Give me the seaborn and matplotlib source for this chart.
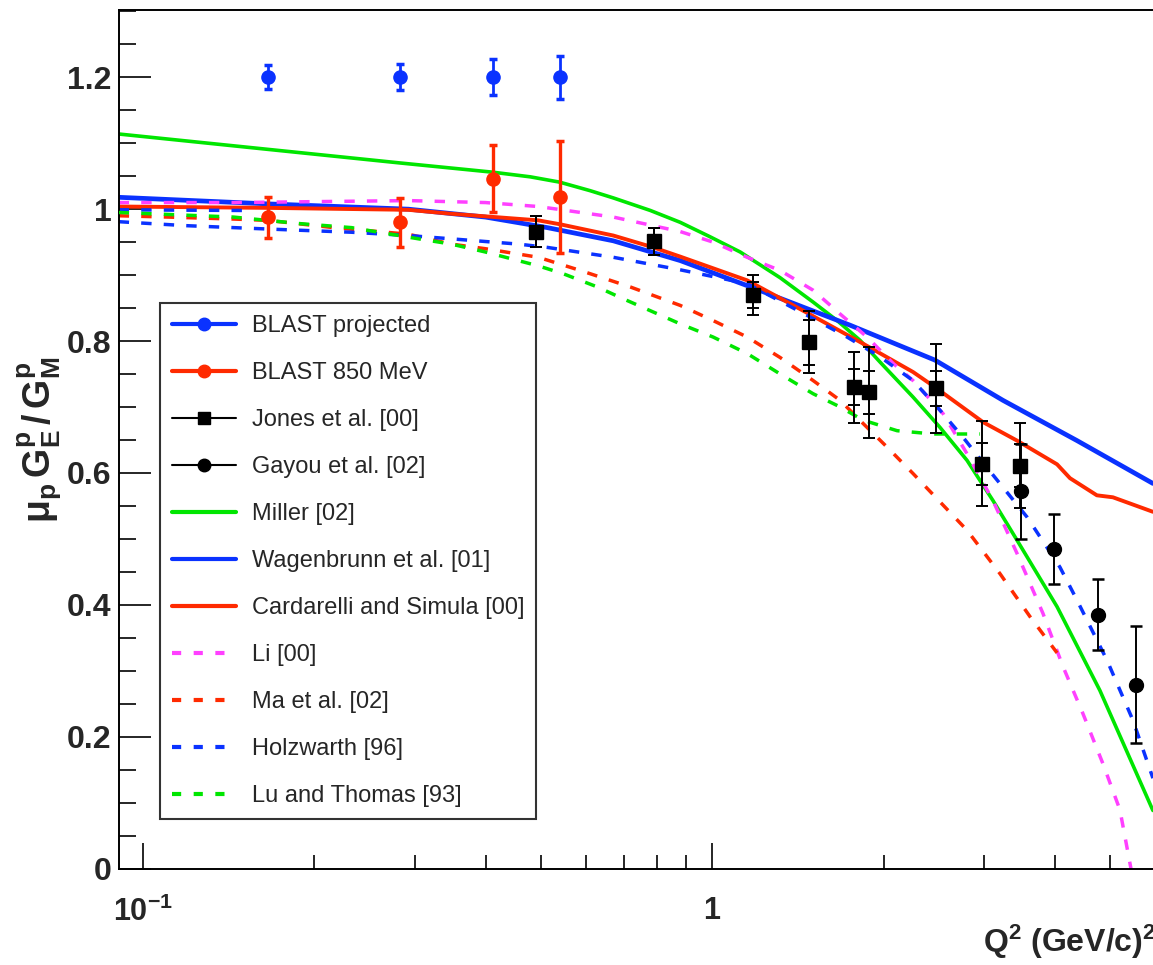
import matplotlib
matplotlib.use("Agg")
import matplotlib.pyplot as plt
import seaborn as sns
from matplotlib.lines import Line2D
from matplotlib.ticker import LogLocator, NullFormatter, MultipleLocator

# ---- data ----
blast_q2 = [0.1656, 0.2824, 0.412, 0.539]
blast_proj = [1.2, 1.2, 1.2, 1.2]
blast_proj_err = [0.018, 0.020, 0.027, 0.033]
blast_850 = [0.988, 0.980, 1.046, 1.018]
blast_850_err = [0.031, 0.037, 0.051, 0.085]

jones_q2 = [0.49, 0.79, 1.18, 1.48, 1.77, 1.88, 2.47, 2.97, 3.47]
jones_val = [0.966, 0.951, 0.870, 0.798, 0.730, 0.722, 0.728, 0.614, 0.611]
jones_stat = [0.024, 0.021, 0.020, 0.034, 0.027, 0.032, 0.027, 0.032, 0.033]
jones_tot = [0.024, 0.021, 0.030, 0.047, 0.054, 0.069, 0.068, 0.064, 0.064]

gayou_q2 = [3.49, 3.985, 4.75, 5.54]
gayou_val = [0.572, 0.484, 0.385, 0.279]
gayou_err = [0.072, 0.053, 0.054, 0.089]

miller_q2 = [0.0906, 0.2832, 0.412, 0.4789, 0.539, 0.610, 0.670, 0.778, 0.878, 0.991,
             1.119, 1.315, 1.503, 1.656, 1.817, 1.970, 2.251, 2.510, 2.800, 3.110,
             3.427, 4.030, 4.792, 5.938]
miller_val = [1.114, 1.070, 1.056, 1.049, 1.041, 1.028, 1.017, 0.998, 0.980, 0.958,
              0.935, 0.896, 0.859, 0.831, 0.801, 0.768, 0.715, 0.669, 0.619, 0.558,
              0.498, 0.397, 0.270, 0.088]

wagen_q2 = [0.0906, 0.1655, 0.2924, 0.3993, 0.5129, 0.6697, 0.878, 1.184, 1.745,
            2.460, 3.239, 4.368, 5.938]
wagen_val = [1.018, 1.008, 1.000, 0.988, 0.972, 0.952, 0.922, 0.880, 0.824,
             0.771, 0.710, 0.649, 0.584]

card_q2 = [0.0906, 0.1641, 0.2924, 0.3479, 0.4946, 0.5405, 0.6697, 0.7873, 0.878, 1.151,
           1.479, 1.839, 2.251, 2.460, 2.987, 3.427, 4.030, 4.246, 4.734, 5.051, 5.938]
card_val = [1.004, 1.002, 0.999, 0.993, 0.983, 0.977, 0.960, 0.942, 0.928, 0.892,
            0.841, 0.796, 0.753, 0.730, 0.677, 0.649, 0.613, 0.592, 0.566, 0.563, 0.541]

li_q2 = [0.0906, 0.1442, 0.2924, 0.3993, 0.4946, 0.6697, 0.878, 1.003, 1.151, 1.315,
         1.503, 1.676, 1.869, 2.077, 2.251, 2.541, 2.800, 3.110, 3.427, 3.806,
         4.129, 4.474, 4.851, 5.196, 5.433]
li_val = [1.010, 1.010, 1.013, 1.010, 1.004, 0.988, 0.966, 0.950, 0.927, 0.907,
          0.877, 0.841, 0.806, 0.766, 0.740, 0.690, 0.629, 0.558, 0.478, 0.387,
          0.306, 0.235, 0.159, 0.089, 0.0]

ma_q2 = [0.0906, 0.1105, 0.1442, 0.1655, 0.2160, 0.2924, 0.3479, 0.3993, 0.4946, 0.5861,
         0.7174, 0.878, 1.003, 1.151, 1.315, 1.503, 1.676, 1.839, 2.027, 2.251,
         2.460, 2.800, 3.200, 3.612, 4.030]
ma_val = [0.990, 0.988, 0.985, 0.983, 0.972, 0.962, 0.947, 0.940, 0.927, 0.907,
          0.882, 0.854, 0.831, 0.806, 0.775, 0.740, 0.710, 0.675, 0.639, 0.599,
          0.564, 0.513, 0.447, 0.382, 0.327]

holz_q2 = [0.0906, 0.1188, 0.1641, 0.2323, 0.2924, 0.3479, 0.4562, 0.5129, 0.6697, 0.878,
           1.151, 1.503, 1.724, 1.970, 2.251, 2.510, 2.755, 3.036, 3.569, 4.077,
           4.368, 4.931, 5.476, 5.938]
holz_val = [0.981, 0.975, 0.970, 0.965, 0.960, 0.955, 0.947, 0.942, 0.927, 0.908,
            0.887, 0.834, 0.806, 0.776, 0.740, 0.695, 0.654, 0.608, 0.533, 0.457,
            0.407, 0.316, 0.225, 0.137]
# short second Holzwarth branch visible at the far left
holz2_q2 = [0.0906, 0.1500]
holz2_val = [0.999, 0.998]

lu_q2 = [0.0906, 0.1442, 0.1890, 0.2323, 0.3046, 0.3479, 0.3993, 0.4946, 0.5472, 0.6280,
         0.6890, 0.878, 1.003, 1.151, 1.315, 1.503, 1.676, 1.839, 2.110, 2.441, 2.951]
lu_val = [0.995, 0.988, 0.978, 0.972, 0.955, 0.947, 0.935, 0.914, 0.902, 0.882,
          0.866, 0.826, 0.806, 0.781, 0.750, 0.720, 0.700, 0.680, 0.664, 0.659, 0.659]

BLUE = "#0a32ff"
RED = "#ff2a00"
GREEN = "#00e600"
MAGENTA = "#ff40ff"

sns.set_style("ticks")
plt.rcParams["font.family"] = ["Liberation Sans", "DejaVu Sans"]
plt.rcParams["mathtext.fontset"] = "custom"
plt.rcParams["mathtext.rm"] = "Liberation Sans"
plt.rcParams["mathtext.bf"] = "Liberation Sans:bold"
plt.rcParams["mathtext.it"] = "Liberation Sans:italic"

fig = plt.figure(figsize=(11.53, 9.65), dpi=100)
ax = fig.add_axes([0.1029, 0.1000, 0.8971, 0.8896])

# theory curves: (label, x, y, color, dashed, width)
curves = [
    ("Miller [02]", miller_q2, miller_val, GREEN, False, 2.6),
    ("Wagenbrunn et al. [01]", wagen_q2, wagen_val, BLUE, False, 3.4),
    ("Cardarelli and Simula [00]", card_q2, card_val, RED, False, 2.8),
    ("Li [00]", li_q2, li_val, MAGENTA, True, 2.5),
    ("Ma et al. [02]", ma_q2, ma_val, RED, True, 2.5),
    ("Holzwarth [96]", holz_q2, holz_val, BLUE, True, 2.5),
    ("Lu and Thomas [93]", lu_q2, lu_val, GREEN, True, 2.5),
]

for i, (name, q2, vals, color, dashed, lw) in enumerate(curves):
    sns.lineplot(x=q2, y=vals, ax=ax, color=color, linewidth=lw, sort=False,
                 legend=False, zorder=2 + i * 0.1)
    if dashed:
        ax.get_lines()[-1].set_dashes([3, 3.5])

sns.lineplot(x=holz2_q2, y=holz2_val, ax=ax, color=BLUE, linewidth=2.5, sort=False,
             legend=False, zorder=2.5)
ax.get_lines()[-1].set_dashes([3, 3.5])

# data points
ax.errorbar(blast_q2, blast_proj, yerr=blast_proj_err, fmt="o", color=BLUE, ms=9.5,
            elinewidth=2, capsize=3, capthick=2.5, zorder=5)
ax.errorbar(blast_q2, blast_850, yerr=blast_850_err, fmt="o", color=RED, ms=9.5,
            elinewidth=2.4, capsize=3, capthick=2.5, zorder=5)
ax.errorbar(jones_q2, jones_val, yerr=jones_tot, fmt="s", color="black", ms=10.5,
            elinewidth=1.4, capsize=4, capthick=1.4, zorder=5)
ax.errorbar(jones_q2, jones_val, yerr=jones_stat, fmt="none", ecolor="black",
            elinewidth=1.4, capsize=4, capthick=1.4, zorder=5)
ax.errorbar(gayou_q2, gayou_val, yerr=gayou_err, fmt="o", color="black", ms=10,
            elinewidth=1.4, capsize=4, capthick=1.8, zorder=5)

ax.set_xscale("log")
ax.set_xlim(0.0906, 5.94)
ax.set_ylim(0, 1.302)

# axes frame, ticks pointing inward
for side in ["left", "bottom", "top"]:
    ax.spines[side].set_linewidth(1.4)
    ax.spines[side].set_color("black")
ax.spines["right"].set_visible(False)

ax.set_yticks([0, 0.2, 0.4, 0.6, 0.8, 1.0, 1.2])
ax.set_yticklabels(["0", "0.2", "0.4", "0.6", "0.8", "1", "1.2"],
                   fontsize=23, fontweight="bold")
ax.yaxis.set_minor_locator(MultipleLocator(0.05))
ax.set_xticks([0.1, 1])
ax.set_xticklabels([r"$\mathbf{10^{-1}}$", r"$\mathbf{1}$"], fontsize=22)
ax.xaxis.set_minor_locator(LogLocator(base=10, subs=[2, 3, 4, 5, 6, 7, 8, 9]))
ax.xaxis.set_minor_formatter(NullFormatter())
ax.tick_params(axis="y", which="major", direction="in", length=23, width=1.4, pad=5,
               left=True, right=False)
ax.tick_params(axis="y", which="minor", direction="in", length=12, width=1.4,
               left=True, right=False)
ax.tick_params(axis="x", which="major", direction="in", length=19, width=1.4, pad=20,
               bottom=True, top=False)
ax.tick_params(axis="x", which="minor", direction="in", length=10, width=1.4,
               bottom=True, top=False)

fig.text(0.035, 0.544, r"$\mathbf{\mu_{p}\,G_{E}^{p}\,/\,G_{M}^{p}}$", rotation=90,
         ha="center", va="center", fontsize=27)
fig.text(983 / 1153, 1 - 942 / 965, r"$\mathbf{Q^{2}\ (GeV/c)^{2}}$",
         ha="left", va="center", fontsize=23)

# legend in the ROOT style
handles = [
    Line2D([], [], color=BLUE, lw=3, marker="o", ms=9),
    Line2D([], [], color=RED, lw=3, marker="o", ms=9),
    Line2D([], [], color="black", lw=1.5, marker="s", ms=9),
    Line2D([], [], color="black", lw=1.5, marker="o", ms=9),
]
labels = ["BLAST projected", "BLAST 850 MeV", "Jones et al. [00]", "Gayou et al. [02]"]
for name, q2, vals, color, dashed, lw in curves:
    h = Line2D([], [], color=color, lw=3)
    if dashed:
        h.set_dashes([2.2, 3])
    handles.append(h)
    labels.append(name)

leg = ax.legend(handles, labels, loc="upper left", bbox_to_anchor=(0.040, 0.6585),
                borderaxespad=0, fontsize=17, labelspacing=1.06, handlelength=2.7,
                handletextpad=0.7, borderpad=0.5, frameon=True, fancybox=False)
leg.get_frame().set_edgecolor("black")
leg.get_frame().set_linewidth(1.5)
leg.set_zorder(10)

fig.savefig("out.png", dpi=100)
